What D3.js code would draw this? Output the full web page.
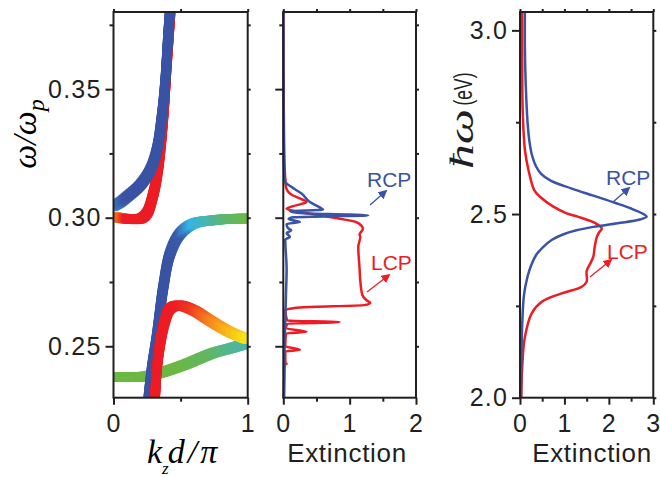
<!DOCTYPE html>
<html>
<head>
<meta charset="utf-8">
<script src="https://cdn.jsdelivr.net/npm/d3@7"></script>
<style>
  body { margin: 0; background: #fff; }
  svg text { font-family: "Liberation Sans", Arial, sans-serif; }
  .frame { fill: none; stroke: #231f20; stroke-width: 2; }
  .tick line, .domain { stroke: #231f20; stroke-width: 2; }
  .ital { font-family: "Liberation Serif", "Times New Roman", serif !important; font-style: italic; }
</style>
</head>
<body>
<main></main>
<script>
// ---- data ----
// dispersion bands: [k_z d/pi, omega/omega_p, colour value (0 blue .. 1 red)]
const bandUpperRed = [
  [0.0, 0.3005, 0.8], [0.05, 0.2999, 0.88], [0.098, 0.2996, 1], [0.197, 0.2996, 1], [0.247, 0.3016, 1],
  [0.297, 0.3093, 1], [0.334, 0.3197, 1], [0.371, 0.339, 1], [0.396, 0.3586, 1], [0.426, 0.381, 1]
];
const bandUpperBlue = [
  [0.0, 0.3045, 0.1], [0.05, 0.306, 0.05], [0.098, 0.308, 0], [0.197, 0.3126, 0], [0.272, 0.3184, 0],
  [0.322, 0.3262, 0], [0.359, 0.339, 0], [0.384, 0.352, 0], [0.408, 0.3716, 0], [0.421, 0.381, 0]
];
const bandLowerBlue = [
  [0.259, 0.229, 0], [0.284, 0.2406, 0], [0.322, 0.2536, 0], [0.371, 0.273, 0], [0.421, 0.286, 0],
  [0.496, 0.2938, 0.02], [0.596, 0.2977, 0.2], [0.744, 0.299, 0.3], [0.85, 0.2995, 0.38], [1.0, 0.2997, 0.44]
];
const bandLowerRed = [
  [0.309, 0.229, 1], [0.322, 0.2406, 1], [0.347, 0.251, 1], [0.384, 0.26, 1], [0.421, 0.2646, 1],
  [0.483, 0.2659, 1], [0.596, 0.264, 0.95], [0.719, 0.26, 0.84], [0.868, 0.2555, 0.74], [1.0, 0.2527, 0.66]
];
const bandGreen = [
  [0.0, 0.238, 0.45], [0.247, 0.2384, 0.45], [0.496, 0.2422, 0.45], [0.744, 0.2474, 0.4],
  [0.87, 0.2492, 0.34], [1.0, 0.2512, 0.3]
];

// extinction vs omega/omega_p: [omega, extinction]
const midLCP = [
  [0.380, 0.0], [0.350, 0.005], [0.335, 0.01], [0.320, 0.02], [0.312, 0.04], [0.309, 0.12],
  [0.3075, 0.25], [0.3061, 0.35], [0.3045, 0.15], [0.3035, 0.05], [0.3025, 0.2], [0.3009, 0.55],
  [0.2996, 0.85], [0.2983, 1.1], [0.2957, 1.2], [0.2935, 1.15], [0.2925, 1.16], [0.2886, 1.13],
  [0.2800, 1.15], [0.2756, 1.16], [0.2700, 1.19], [0.2680, 1.25], [0.2668, 1.31], [0.2660, 1.22],
  [0.2652, 0.3], [0.2646, 0.1], [0.2640, 0.03], [0.2620, 0.04], [0.2600, 0.06], [0.2594, 0.85],
  [0.2588, 0.06], [0.2570, 0.04], [0.2556, 0.35], [0.2550, 0.04], [0.2500, 0.03], [0.2486, 0.25],
  [0.2480, 0.03], [0.2436, 0.03], [0.2432, 0.05], [0.2428, 0.02], [0.2300, 0.01]
];
const midRCP = [
  [0.380, 0.0], [0.340, 0.005], [0.320, 0.01], [0.314, 0.03], [0.312, 0.12], [0.3093, 0.28],
  [0.3061, 0.4], [0.3040, 0.55], [0.3031, 0.6], [0.3025, 0.1], [0.3017, 0.3], [0.3012, 1.0],
  [0.3009, 1.28], [0.3005, 0.6], [0.3002, 0.15], [0.2995, 0.08], [0.2983, 0.25], [0.2975, 0.05],
  [0.2960, 0.07], [0.2951, 0.12], [0.2940, 0.05], [0.2925, 0.1], [0.2915, 0.03], [0.280, 0.05],
  [0.270, 0.04], [0.260, 0.03], [0.250, 0.02], [0.230, 0.01]
];

// extinction vs photon energy (eV): [energy, extinction]
const rightRCP = [
  [3.05, 0.11], [2.95, 0.11], [2.85, 0.13], [2.75, 0.17], [2.70, 0.21], [2.66, 0.27], [2.63, 0.36],
  [2.61, 0.47], [2.59, 0.70], [2.57, 1.15], [2.55, 1.65], [2.53, 2.15], [2.515, 2.5], [2.50, 2.78],
  [2.493, 2.85], [2.485, 2.7], [2.475, 2.2], [2.465, 1.65], [2.455, 1.25], [2.445, 0.98], [2.43, 0.72],
  [2.41, 0.52], [2.39, 0.37], [2.36, 0.25], [2.33, 0.17], [2.28, 0.09], [2.2, 0.05], [2.1, 0.03], [2.0, 0.02]
];
const rightLCP = [
  [3.05, 0.05], [2.90, 0.05], [2.784, 0.06], [2.675, 0.11], [2.62, 0.19], [2.565, 0.32], [2.547, 0.45],
  [2.52, 0.75], [2.502, 1.05], [2.493, 1.3], [2.475, 1.7], [2.461, 1.84], [2.45, 1.78], [2.438, 1.73],
  [2.41, 1.68], [2.384, 1.65], [2.365, 1.58], [2.345, 1.5], [2.316, 1.5], [2.302, 1.39], [2.284, 0.94],
  [2.261, 0.49], [2.229, 0.26], [2.165, 0.11], [2.084, 0.05], [2.0, 0.03]
];

const omegaMajor = [0.25, 0.30, 0.35], omegaMinor = [0.275, 0.325, 0.375];
const energyMajor = [2.0, 2.5, 3.0], energyMinor = [2.25, 2.75];

const blue = "#3a53a4", red = "#ed1c24";

// ---- svg ----
const width = 660, height = 477;
const svg = d3.select("main").append("svg")
    .attr("width", width)
    .attr("height", height);

const defs = svg.append("defs");
[["arrB", blue], ["arrR", red]].forEach(([id, c]) => {
  defs.append("marker").attr("id", id)
    .attr("viewBox", "0 0 10 10").attr("refX", 8).attr("refY", 5)
    .attr("markerWidth", 7).attr("markerHeight", 7).attr("orient", "auto")
    .append("path").attr("d", "M0,0 L10,5 L0,10 z").attr("fill", c);
});

const yTop = 12, yBot = 397.7;
const yOmega = d3.scaleLinear().domain([0.23, 0.38]).range([yBot, yTop]);
const yEnergy = d3.scaleLinear().domain([2.0, 3.05]).range([yBot, yTop]);
const x1 = d3.scaleLinear().domain([0, 1]).range([113.5, 247.7]);
const x2 = d3.scaleLinear().domain([0, 2]).range([283.3, 416]);
const x3 = d3.scaleLinear().domain([0, 3]).range([520, 653.3]);

// 軸の描画
function axes(x, y, xMaj, xMin, yMaj, yMin, xFmt, yFmt) {
  const g = svg.append("g");
  const draw = (axis, tr, vals, size, fmt, pad) => {
    const a = g.append("g").attr("transform", tr)
      .call(axis.tickValues(vals).tickSize(size).tickPadding(pad || 5).tickFormat(fmt || ""));
    a.select(".domain").remove();
    a.selectAll("text").attr("font-size", 25).attr("letter-spacing", 1.2).attr("fill", "#231f20");
    return a;
  };
  const [x0, xr] = x.range(), [yb, yt] = y.range();
  draw(d3.axisLeft(y), `translate(${x0},0)`, yMaj, 8, yFmt, 4);
  draw(d3.axisLeft(y), `translate(${x0},0)`, yMin, 4);
  draw(d3.axisRight(y), `translate(${xr},0)`, yMaj.concat(yMin), 3);
  draw(d3.axisBottom(x), `translate(0,${yb})`, xMaj, 7, xFmt, 10);
  draw(d3.axisBottom(x), `translate(0,${yb})`, xMin, 4);
  draw(d3.axisTop(x), `translate(0,${yt})`, xMaj.concat(xMin), 3);
  return g;
}

// ---- panel 1: bands ----
defs.append("clipPath").attr("id", "c1")
  .append("rect").attr("x", x1(0)).attr("y", yTop).attr("width", x1(1) - x1(0)).attr("height", yBot - yTop);

const cmap = d3.scaleLinear()
  .domain([0, 0.2, 0.45, 0.65, 0.8, 1])
  .range(["#3a53a4", "#35b5e5", "#6cb843", "#f7e915", "#f7941d", "#ed1c24"]);

const bandLayer = svg.append("g").attr("clip-path", "url(#c1)");
const bandLine = d3.line().x(d => x1(d[0])).y(d => yOmega(d[1])).curve(d3.curveCatmullRom);

function drawBand(band) {
  const px = band.map(d => [x1(d[0]), yOmega(d[1])]);
  let acc = [0];
  for (let i = 1; i < px.length; i++) acc.push(acc[i - 1] + Math.hypot(px[i][0] - px[i - 1][0], px[i][1] - px[i - 1][1]));
  const frac = d3.scaleLinear().domain(acc.map(a => a / acc[acc.length - 1])).range(band.map(d => d[2]));
  const p = bandLayer.append("path").attr("d", bandLine(band)).attr("fill", "none");
  const len = p.node().getTotalLength();
  const pts = d3.range(0, len, 1).map(l => p.node().getPointAtLength(l));
  const s = 9.5;
  bandLayer.append("g").selectAll("rect").data(pts).join("rect")
    .attr("x", d => d.x - s / 2).attr("y", d => d.y - s / 2)
    .attr("width", s).attr("height", s)
    .attr("fill", (d, i) => cmap(frac(i / (pts.length - 1))));
  p.remove();
}
drawBand(bandGreen);
drawBand(bandUpperRed);
drawBand(bandUpperBlue);
drawBand(bandLowerBlue);
drawBand(bandLowerRed);

axes(x1, yOmega, [0, 1], [0.5], omegaMajor, omegaMinor, d3.format("d"), d3.format(".2f"));
svg.append("rect").attr("class", "frame").attr("x", x1(0)).attr("y", yTop).attr("width", x1(1) - x1(0)).attr("height", yBot - yTop);

// ---- panel 2 ----
const lineMid = d3.line().x(d => x2(d[1])).y(d => yOmega(d[0])).curve(d3.curveMonotoneY);
svg.append("path").attr("d", lineMid(midLCP)).attr("fill", "none").attr("stroke", red).attr("stroke-width", 2.5);
svg.append("path").attr("d", lineMid(midRCP)).attr("fill", "none").attr("stroke", blue).attr("stroke-width", 2.5);
axes(x2, yOmega, [0, 1, 2], [0.5, 1.5], omegaMajor, omegaMinor, d3.format("d"), () => "");
svg.append("rect").attr("class", "frame").attr("x", x2(0)).attr("y", yTop).attr("width", x2(2) - x2(0)).attr("height", yBot - yTop);

// ---- panel 3 ----
const lineRight = d3.line().x(d => x3(d[1])).y(d => yEnergy(d[0])).curve(d3.curveCatmullRom);
svg.append("path").attr("d", lineRight(rightLCP)).attr("fill", "none").attr("stroke", red).attr("stroke-width", 2.5);
svg.append("path").attr("d", lineRight(rightRCP)).attr("fill", "none").attr("stroke", blue).attr("stroke-width", 2.5);
axes(x3, yEnergy, [0, 1, 2, 3], [0.5, 1.5, 2.5], energyMajor, energyMinor, d3.format("d"), d3.format(".1f"));
svg.append("rect").attr("class", "frame").attr("x", x3(0)).attr("y", yTop).attr("width", x3(3) - x3(0)).attr("height", yBot - yTop);

// ---- labels ----
svg.append("text").attr("class", "ital").attr("font-size", 34)
  .attr("transform", "translate(36,134) rotate(-90)").attr("text-anchor", "middle")
  .call(t => {
    t.append("tspan").text("ω/ω");
    t.append("tspan").attr("font-size", 24).attr("dy", 8).text("p");
  });

svg.append("text").attr("class", "ital").attr("font-size", 34).attr("x", 147).attr("y", 463)
  .call(t => {
    t.append("tspan").text("k");
    t.append("tspan").attr("font-size", 17).attr("dy", 11).attr("dx", 0).text("z");
    t.append("tspan").attr("dy", -11).attr("dx", -1).attr("letter-spacing", 3).text("d/π");
  });

svg.append("text").attr("font-size", 26).attr("letter-spacing", 0.7).attr("x", 347).attr("y", 462).attr("text-anchor", "middle").attr("fill", "#231f20").text("Extinction");
svg.append("text").attr("font-size", 26).attr("letter-spacing", 0.7).attr("x", 592).attr("y", 462).attr("text-anchor", "middle").attr("fill", "#231f20").text("Extinction");

// ħω (eV), rotated
svg.append("text").attr("class", "ital").attr("font-size", 33).attr("fill", "#231f20")
  .attr("transform", "translate(473,139) rotate(-90)").attr("text-anchor", "middle")
  .attr("textLength", 60).attr("lengthAdjust", "spacingAndGlyphs").text("ħω");
svg.append("text").attr("font-size", 26).attr("fill", "#231f20")
  .attr("transform", "translate(472,89) rotate(-90)").attr("text-anchor", "middle")
  .attr("textLength", 33).attr("lengthAdjust", "spacingAndGlyphs").text("(eV)");

// annotations
function note(txt, c, tx, ty, a) {
  svg.append("text").attr("x", tx).attr("y", ty).attr("font-size", 21).attr("fill", c).text(txt);
  svg.append("line").attr("x1", a[0]).attr("y1", a[1]).attr("x2", a[2]).attr("y2", a[3])
    .attr("stroke", c).attr("stroke-width", 1.3).attr("marker-end", `url(#${c === blue ? "arrB" : "arrR"})`);
}
note("RCP", blue, 367, 187, [370, 205, 386, 191]);
note("LCP", red, 371, 270, [367, 292, 389, 275]);
note("RCP", blue, 606, 185, [613, 202, 629, 188]);
note("LCP", red, 607, 259, [590, 277, 611, 260]);
</script>
</body>
</html>
